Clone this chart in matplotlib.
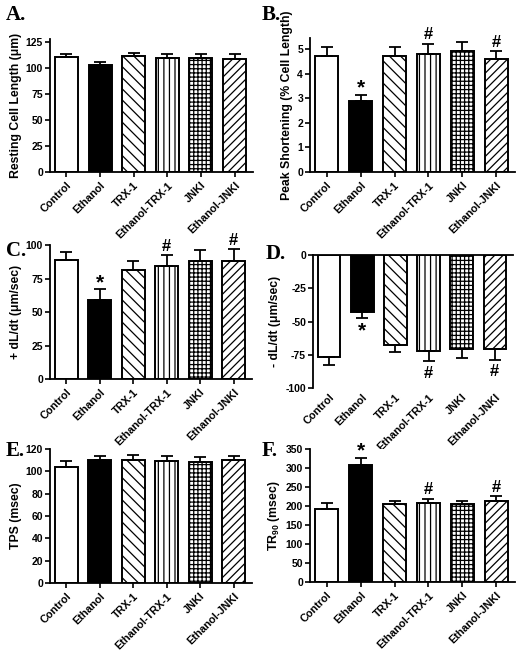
import matplotlib
matplotlib.use("Agg")
import matplotlib.pyplot as plt

plt.rcParams['font.family'] = ['Liberation Sans', 'DejaVu Sans']
plt.rcParams['font.weight'] = 'bold'
plt.rcParams['mathtext.fontset'] = 'custom'
plt.rcParams['mathtext.rm'] = 'Liberation Sans:bold'
plt.rcParams['mathtext.bf'] = 'Liberation Sans:bold'
plt.rcParams['hatch.linewidth'] = 0.9

groups = ["Control", "Ethanol", "TRX-1", "Ethanol-TRX-1", "JNKI", "Ethanol-JNKI"]

# mean and SEM
resting_len = [110.6, 102.6, 111.9, 110.0, 110.0, 109.0]
resting_err = [3.2, 3.2, 2.8, 3.0, 3.0, 4.0]
peak_short = [4.70, 2.87, 4.72, 4.80, 4.90, 4.59]
peak_err = [0.38, 0.27, 0.36, 0.42, 0.37, 0.31]
plus_dldt = [88.8, 59.0, 81.5, 84.4, 88.0, 88.3]
plus_err = [5.7, 8.0, 6.5, 8.2, 8.3, 8.7]
minus_dldt = [-77.0, -42.5, -68.0, -72.0, -70.5, -71.0]
minus_err = [5.7, 5.0, 5.0, 8.0, 7.0, 8.0]
tps = [104.0, 110.0, 110.0, 109.0, 108.0, 110.0]
tps_err = [5.0, 4.0, 5.0, 5.0, 4.6, 4.0]
tr90 = [191.0, 309.0, 206.0, 208.0, 204.0, 213.0]
tr90_err = [16.0, 18.0, 8.0, 11.0, 10.0, 13.0]

# significance marks ('' = none)
marks_b = ["", "*", "", "#", "", "#"]
marks_c = ["", "*", "", "#", "", "#"]
marks_d = ["", "*", "", "#", "", "#"]
marks_f = ["", "*", "", "#", "", "#"]

colors = ["white", "black", "white", "white", "white", "white"]
hatches = [None, None, "\\\\\\", "|||", "++++", "////"]

W, H = 520, 655
fig = plt.figure(figsize=(W / 100, H / 100), dpi=100)


def make_axes(x1, x2, pix0, v0, pix1, v1, ylim):
    # pixel positions of two tick values -> axes box for ylim
    scale = (pix0 - pix1) / (v1 - v0)
    ybot = pix0 + (v0 - ylim[0]) * scale
    ytop = pix0 - (ylim[1] - v0) * scale
    ax = fig.add_axes([x1 / W, 1 - ybot / H, (x2 - x1) / W, (ybot - ytop) / H])
    ax.set_ylim(*ylim)
    return ax


def draw_panel(ax, vals, errs, ylabel, yticks, marks=None, negative=False):
    x = list(range(len(groups)))
    ax.bar(x, vals, width=0.68, color=colors, edgecolor="black",
           linewidth=1.4, zorder=2)
    for i, p in enumerate(ax.patches):
        if hatches[i]:
            p.set_hatch(hatches[i])
    if negative:
        yerr = [errs, [0] * len(errs)]
    else:
        yerr = [[0] * len(errs), errs]
    ax.errorbar(x, vals, yerr=yerr, fmt="none", ecolor="black",
                elinewidth=1.3, capsize=4.3, capthick=1.3, zorder=3)
    if marks:
        for i, m in enumerate(marks):
            if not m:
                continue
            size = 12 if m == "#" else 15
            if negative:
                ax.annotate(m, (i, vals[i] - errs[i]), xytext=(0, -3 if m == "#" else -2),
                            textcoords="offset points", ha="center", va="top",
                            fontsize=size, fontweight="bold")
            else:
                ax.annotate(m, (i, vals[i] + errs[i]), xytext=(0, 1 if m == "#" else -2),
                            textcoords="offset points", ha="center", va="bottom",
                            fontsize=size, fontweight="bold")
    ax.set_xlim(-0.49, 5.55)
    ax.set_xticks(x)
    ax.set_xticklabels(groups, rotation=45, ha="right", rotation_mode="anchor",
                       fontsize=7.8, fontweight="bold")
    ax.set_yticks(yticks)
    ax.set_yticklabels([str(t) for t in yticks], fontsize=7.5, fontweight="bold")
    ax.set_ylabel(ylabel, fontsize=8.8, fontweight="bold", labelpad=3)
    for s in ["left", "bottom", "top"]:
        ax.spines[s].set_linewidth(1.3)
    ax.spines["right"].set_visible(False)
    ax.tick_params(axis="y", length=3.5, width=1.2, pad=1.5)
    if negative:
        ax.spines["bottom"].set_visible(False)
        ax.tick_params(axis="x", length=0, pad=3)
    else:
        ax.spines["top"].set_visible(False)
        ax.tick_params(axis="x", length=3.5, width=1.2, pad=2.5)


def letter(txt, x, y):
    fig.text(x / W, 1 - y / H, txt, fontsize=15, fontweight="bold",
             family="Liberation Serif", ha="left", va="center")


axA = make_axes(50, 253, 172, 0, 42, 125, (0, 128))
draw_panel(axA, resting_len, resting_err, "Resting Cell Length (\u03bcm)",
           [0, 25, 50, 75, 100, 125])

axB = make_axes(310, 515, 172, 0, 49, 5, (0, 5.45))
draw_panel(axB, peak_short, peak_err, "Peak Shortening (% Cell Length)",
           [0, 1, 2, 3, 4, 5], marks_b)

axC = make_axes(50, 252, 379, 0, 245, 100, (0, 100))
draw_panel(axC, plus_dldt, plus_err, "+ dL/dt (\u03bcm/sec)",
           [0, 25, 50, 75, 100], marks_c)

axD = make_axes(313, 513, 255, 0, 388, -100, (-100, 0))
draw_panel(axD, minus_dldt, minus_err, "- dL/dt (\u03bcm/sec)",
           [-100, -75, -50, -25, 0], marks_d, negative=True)

axE = make_axes(50, 252, 583, 0, 449, 120, (0, 120))
draw_panel(axE, tps, tps_err, "TPS (msec)", [0, 20, 40, 60, 80, 100, 120])

axF = make_axes(310, 515, 582, 0, 449, 350, (0, 350))
draw_panel(axF, tr90, tr90_err, r"TR$_{\mathbf{90}}$ (msec)",
           [0, 50, 100, 150, 200, 250, 300, 350], marks_f)

letter("A.", 6, 15)
letter("B.", 262, 15)
letter("C.", 6, 251)
letter("D.", 266, 254)
letter("E.", 6, 451)
letter("F.", 262, 451)

fig.savefig("out.png", dpi=100)
